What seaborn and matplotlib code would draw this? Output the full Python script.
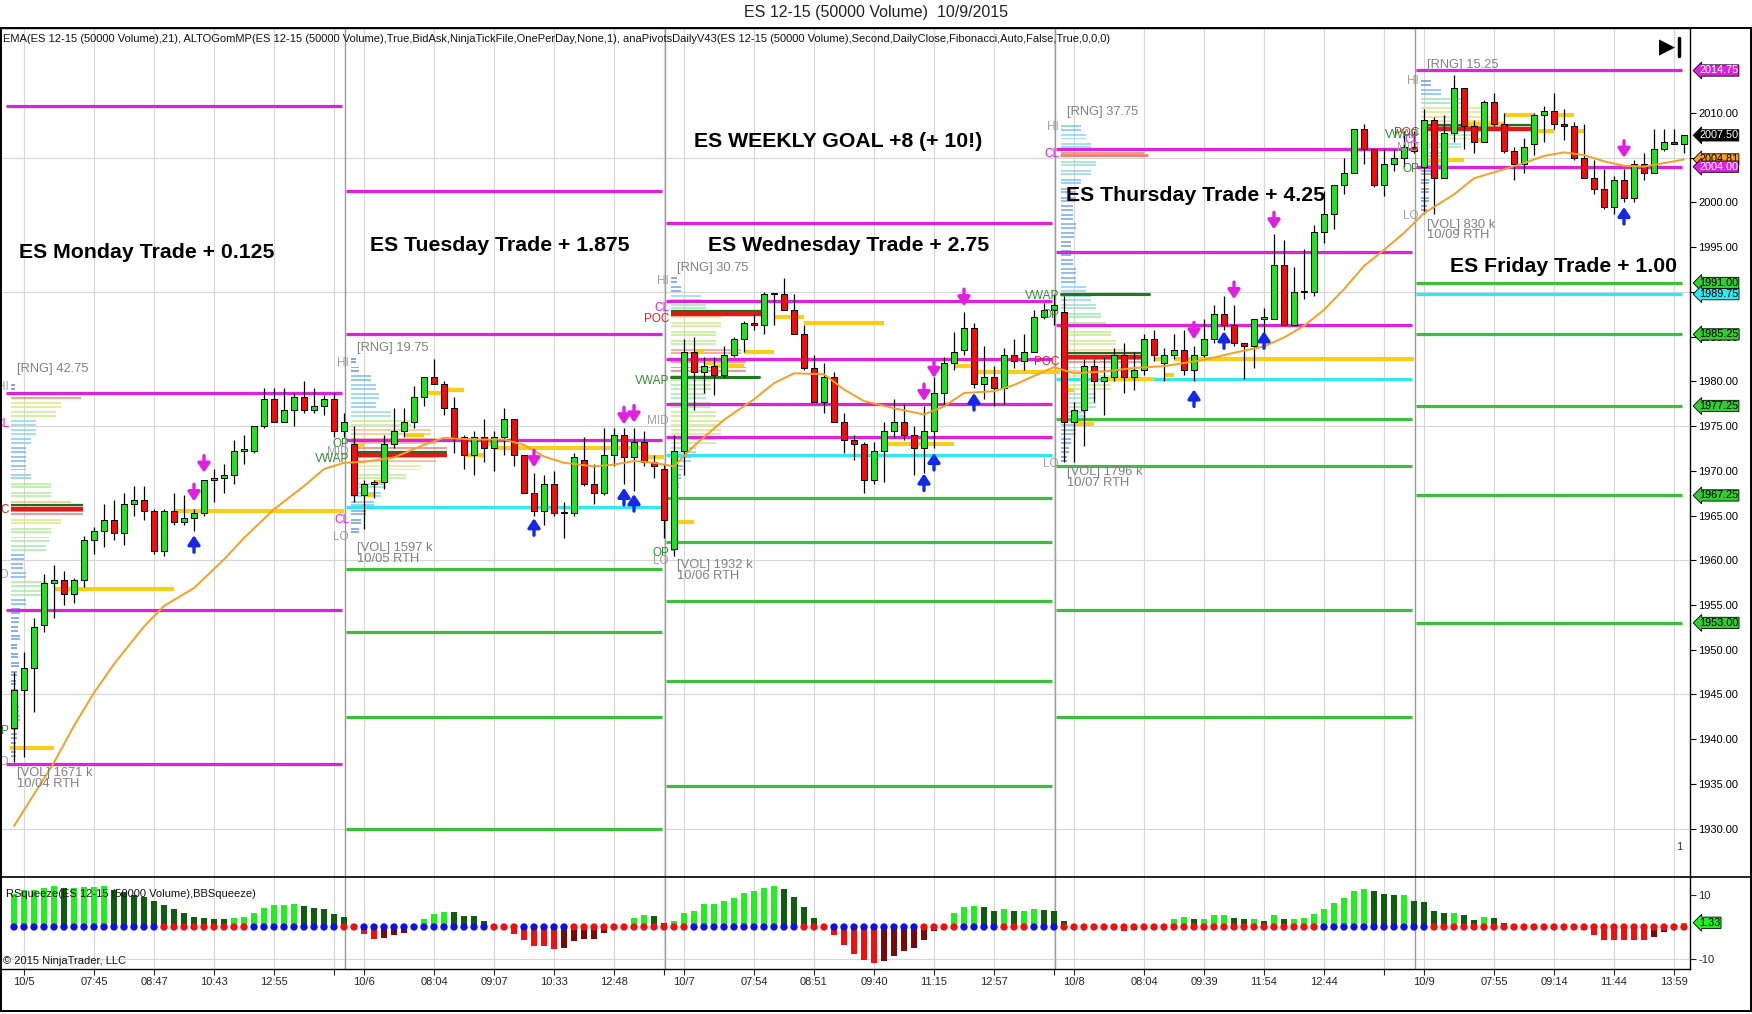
import numpy as np
import pandas as pd
import matplotlib.pyplot as plt
import matplotlib.transforms as mtransforms
from matplotlib.colors import LinearSegmentedColormap
from matplotlib.patches import Rectangle
from matplotlib.lines import Line2D
import seaborn as sns

# ==================================
# DATA
# ==================================

opens = [1941.25, 1945.5, 1948.0, 1952.75, 1957.5, 1957.75, 1956.25, 1957.75, 1962.25, 1963.25,
         1964.5, 1963.0, 1966.25, 1966.75, 1965.5, 1961.0, 1965.5, 1964.25, 1964.75, 1965.25,
         1969.0, 1969.25, 1969.5, 1972.25, 1972.25, 1975.0, 1978.0, 1975.5, 1976.75, 1978.25,
         1976.75, 1977.25, 1978.0, 1974.5,
         1973.0, 1967.25, 1968.5, 1968.75, 1973.0, 1974.5, 1975.5, 1978.25, 1980.5, 1979.75,
         1977.0, 1973.75, 1971.75, 1973.75, 1972.5, 1973.75, 1975.75, 1971.75, 1967.5, 1965.5,
         1968.5, 1965.25, 1965.25, 1971.25, 1968.5, 1967.5, 1971.75, 1974.0, 1971.5, 1973.25,
         1971.0, 1970.25,
         1961.25, 1972.25, 1983.25, 1981.0, 1981.75, 1980.75, 1983.0, 1984.75, 1986.5, 1986.25,
         1989.75, 1989.75, 1988.0, 1985.25, 1981.5, 1977.75, 1980.5, 1975.5, 1973.5, 1973.0,
         1969.0, 1972.25, 1974.5, 1975.5, 1974.0, 1972.5, 1974.5, 1978.75, 1982.0, 1983.5,
         1986.0, 1979.75, 1980.5, 1979.25, 1983.0, 1982.25, 1983.25, 1987.25, 1988.0,
         1987.75, 1975.5, 1976.75, 1981.75, 1980.0, 1980.5, 1983.0, 1980.5, 1981.25, 1984.75,
         1982.0, 1983.0, 1983.5, 1981.25, 1983.0, 1984.75, 1987.5, 1986.25, 1984.25, 1984.0,
         1987.0, 1987.0, 1993.0, 1986.25, 1990.0, 1990.0, 1996.75, 1998.75, 2002.0, 2003.25,
         2008.25, 2006.0, 2002.0, 2004.25, 2005.0, 2006.25,
         2004.0, 2009.25, 2002.75, 2007.75, 2012.75, 2008.5, 2006.75, 2011.25, 2008.75, 2005.75,
         2004.25, 2006.5, 2009.75, 2010.25, 2008.75, 2008.5, 2005.0, 2002.75, 2001.5, 1999.5,
         2002.5, 2000.5, 2004.25, 2003.25, 2006.0, 2006.75, 2006.5]
highs = [1947.5, 1949.75, 1953.5, 1958.5, 1959.5, 1958.75, 1958.0, 1962.75, 1963.75, 1966.25,
         1966.75, 1967.5, 1968.25, 1968.25, 1965.75, 1965.75, 1967.5, 1967.25, 1965.75, 1969.0,
         1970.25, 1970.75, 1973.5, 1974.0, 1975.0, 1979.25, 1979.25, 1979.25, 1978.75, 1980.0,
         1979.25, 1978.5, 1978.75, 1976.5,
         1975.0, 1969.0, 1969.0, 1974.0, 1977.0, 1977.0, 1979.5, 1980.5, 1982.5, 1980.0,
         1978.25, 1974.0, 1974.5, 1975.75, 1974.5, 1977.0, 1975.75, 1971.75, 1969.75, 1969.5,
         1970.0, 1966.5, 1972.0, 1973.75, 1970.75, 1974.75, 1974.75, 1974.75, 1974.75, 1974.5,
         1971.75, 1970.75,
         1974.0, 1984.75, 1985.0, 1982.75, 1982.75, 1984.0, 1985.0, 1986.75, 1987.5, 1990.0,
         1989.9, 1991.5, 1989.75, 1986.25, 1983.0, 1982.0, 1981.0, 1976.5, 1974.0, 1973.25,
         1973.25, 1975.5, 1978.0, 1977.5, 1975.0, 1977.25, 1980.5, 1982.75, 1985.5, 1987.75,
         1986.5, 1984.0, 1981.75, 1983.75, 1984.75, 1985.25, 1988.0, 1988.75, 1989.75,
         1989.5, 1977.75, 1982.5, 1982.5, 1982.75, 1983.75, 1984.25, 1983.25, 1985.25, 1985.75,
         1983.75, 1985.25, 1985.75, 1984.0, 1987.0, 1988.5, 1989.5, 1988.5, 1984.25, 1987.0,
         1988.25, 1996.5, 1995.75, 1992.75, 1994.75, 1997.5, 2001.25, 2002.0, 2005.0, 2008.25,
         2008.75, 2006.0, 2006.0, 2006.0, 2008.0, 2008.0,
         2010.5, 2009.5, 2009.75, 2014.25, 2012.75, 2009.25, 2011.5, 2012.25, 2010.0, 2006.25,
         2007.25, 2010.0, 2010.75, 2012.25, 2010.5, 2009.0, 2008.75, 2004.75, 2003.75, 2003.0,
         2003.75, 2004.75, 2005.5, 2008.25, 2008.25, 2008.25, 2007.5]
lows = [1937.5, 1938.0, 1943.0, 1952.0, 1953.5, 1955.0, 1955.25, 1957.0, 1960.75, 1961.5,
        1962.25, 1961.75, 1965.0, 1964.5, 1960.75, 1960.5, 1964.0, 1964.0, 1963.25, 1965.0,
        1966.5, 1967.5, 1968.5, 1970.75, 1972.0, 1974.75, 1975.5, 1975.5, 1975.0, 1976.5,
        1976.5, 1976.25, 1973.75, 1973.75,
        1966.5, 1963.5, 1967.0, 1968.0, 1972.5, 1973.75, 1974.75, 1977.25, 1979.75, 1976.25,
        1972.0, 1970.25, 1969.5, 1971.0, 1970.0, 1971.75, 1970.5, 1967.5, 1965.0, 1964.0,
        1965.0, 1962.5, 1965.0, 1968.25, 1966.25, 1967.25, 1970.5, 1968.5, 1967.75, 1970.5,
        1969.25, 1962.5,
        1960.5, 1969.5, 1976.75, 1978.75, 1978.5, 1980.5, 1982.75, 1983.25, 1985.75, 1985.25,
        1986.25, 1988.0, 1985.25, 1981.25, 1977.75, 1976.5, 1975.5, 1972.0, 1971.25, 1967.5,
        1968.5, 1968.75, 1973.75, 1973.5, 1969.5, 1969.75, 1972.5, 1977.25, 1981.25, 1983.0,
        1979.25, 1978.0, 1977.25, 1977.5, 1981.5, 1981.25, 1983.25, 1987.0, 1986.25,
        1971.0, 1971.0, 1972.75, 1977.75, 1976.25, 1980.0, 1978.75, 1979.0, 1980.75, 1982.25,
        1980.0, 1982.5, 1980.75, 1980.0, 1982.75, 1984.25, 1985.75, 1984.0, 1980.25, 1981.5,
        1984.0, 1987.0, 1986.25, 1986.25, 1989.25, 1989.5, 1995.5, 1997.0, 2001.0, 2003.25,
        2004.25, 2001.75, 2000.75, 2003.5, 2004.0, 2005.5,
        1998.75, 1998.75, 2002.75, 2006.75, 2006.0, 2005.5, 2006.75, 2008.5, 2005.5, 2002.5,
        2003.25, 2005.25, 2006.75, 2008.25, 2007.0, 2004.75, 2002.75, 2001.0, 1999.25, 1998.75,
        2000.0, 2000.0, 2002.5, 2003.25, 2005.75, 2006.5, 2005.5]
closes = [1945.5, 1948.0, 1952.5, 1957.5, 1957.75, 1956.25, 1957.75, 1962.25, 1963.25, 1964.5,
          1963.0, 1966.25, 1966.75, 1965.5, 1961.0, 1965.5, 1964.25, 1964.75, 1965.25, 1969.0,
          1969.25, 1969.5, 1972.25, 1972.25, 1975.0, 1978.0, 1975.5, 1976.75, 1978.25, 1976.75,
          1977.25, 1978.0, 1974.5, 1975.5,
          1967.25, 1968.5, 1968.75, 1973.0, 1974.5, 1975.5, 1978.25, 1980.5, 1979.75, 1977.0,
          1973.75, 1971.75, 1973.75, 1972.5, 1973.75, 1975.75, 1971.75, 1967.5, 1965.5, 1968.5,
          1965.25, 1965.25, 1971.5, 1968.5, 1967.5, 1971.75, 1974.0, 1971.5, 1973.25, 1971.0,
          1970.5, 1964.5,
          1972.25, 1983.25, 1981.0, 1981.75, 1980.75, 1983.0, 1984.75, 1986.5, 1986.25, 1989.75,
          1989.75, 1988.0, 1985.25, 1981.5, 1977.75, 1980.5, 1975.5, 1973.5, 1973.0, 1969.0,
          1972.25, 1974.5, 1975.5, 1974.0, 1972.5, 1974.5, 1978.75, 1982.0, 1983.25, 1986.0,
          1979.75, 1980.5, 1979.25, 1983.0, 1982.25, 1983.25, 1987.25, 1988.0, 1988.5,
          1975.5, 1976.75, 1981.75, 1980.0, 1980.5, 1983.0, 1980.5, 1981.25, 1984.75, 1983.0,
          1983.0, 1983.5, 1981.25, 1983.0, 1984.75, 1987.5, 1986.25, 1984.25, 1984.0, 1987.0,
          1987.25, 1993.0, 1986.25, 1990.0, 1990.0, 1996.75, 1998.75, 2002.0, 2003.25, 2008.25,
          2006.0, 2002.0, 2004.25, 2005.0, 2006.25, 2005.75,
          2009.25, 2002.75, 2007.75, 2012.75, 2008.5, 2006.75, 2011.25, 2008.75, 2005.75, 2004.25,
          2006.25, 2009.75, 2010.25, 2008.75, 2008.5, 2005.0, 2002.75, 2001.5, 1999.5, 2002.5,
          2000.5, 2004.25, 2003.25, 2006.0, 2006.75, 2006.5, 2007.5]

# EMA(21) line read at a subset of bars
ema_bars = [0, 4, 6, 8, 10, 13, 15, 18, 21, 23, 26, 29, 31, 33, 35, 38, 41, 43, 46, 49, 51, 53,
            55, 58, 60, 62, 64, 66, 68, 71, 74, 76, 78, 81, 83, 85, 88, 91, 93, 95, 98, 100, 102,
            104, 106, 109, 112, 115, 119, 122, 125, 127, 129, 131, 133, 135, 137, 139, 141, 144,
            146, 149, 151, 153, 155, 157, 159, 161, 163, 165, 167]
ema_vals = [1930.3, 1937.4, 1941.5, 1945.2, 1948.4, 1952.6, 1954.9, 1956.9, 1960.1, 1962.5,
            1965.7, 1968.3, 1970.2, 1970.9, 1971.0, 1971.5, 1972.9, 1973.7, 1973.5, 1973.5,
            1972.9, 1971.6, 1970.9, 1970.5, 1970.7, 1971.1, 1970.9, 1970.5, 1972.8, 1975.7,
            1978.0, 1979.8, 1980.9, 1980.8, 1979.1, 1977.8, 1977.0, 1976.3, 1977.2, 1978.7,
            1978.9, 1979.6, 1980.6, 1981.6, 1980.9, 1981.1, 1981.5, 1981.7, 1982.4, 1983.2,
            1983.9, 1984.9, 1986.2, 1988.0, 1990.3, 1992.9, 1994.7, 1996.6, 1998.8, 2000.9,
            2002.7, 2003.7, 2004.4, 2005.2, 2005.6, 2005.3, 2004.6, 2004.1, 2004.0, 2004.4,
            2004.8]

# BBSqueeze histogram
squeeze = [10.5, 11.7, 11.7, 12.4, 12.8, 12.4, 12.4, 12.6, 12.6, 12.8, 11.5, 11.0, 10.2, 9.4,
           8.1, 7.0, 5.8, 4.5, 3.1, 2.8, 2.6, 2.5, 2.9, 3.2, 4.5, 6.0, 6.8, 7.0, 7.3, 6.6, 6.0,
           5.8, 4.2, 3.1,
           -0.2, -2.1, -3.7, -3.6, -2.6, -1.8, 0.2, 2.4, 4.2, 4.7, 4.6, 3.5, 3.4, 1.8, -0.2, -0.3,
           -2.1, -4.2, -6.1, -6.1, -6.8, -6.5, -4.5, -3.9, -3.7, -1.9, -0.1, 0.1, 2.9, 3.7, 3.6, 1.4,
           2.0, 4.3, 5.1, 7.1, 7.3, 8.1, 9.2, 10.8, 11.2, 12.4, 12.8, 12.0, 9.5, 6.4, 2.9, -0.1,
           -2.6, -5.8, -8.4, -10.5, -11.2, -10.8, -9.2, -7.6, -6.5, -4.2, -1.4, 0.3, 4.3, 6.4, 6.5,
           6.4, 5.1, 5.5, 5.1, 5.1, 5.5, 5.4, 5.1,
           2.0, -0.1, -0.1, -0.2, -0.2, -0.1, -1.4, -1.0, 0.0, 0.0, 0.0, 2.4, 3.0, 2.6, 2.6, 3.7,
           3.7, 2.9, 2.4, 2.4, 2.0, 3.7, 2.4, 2.4, 2.7, 4.0, 5.5, 7.4, 9.2, 11.3, 12.0, 11.2, 10.5,
           9.9, 9.9, 8.3,
           7.9, 5.1, 4.5, 4.5, 3.7, 2.3, 3.1, 2.9, 1.4, 0.0, 0.0, 0.0, 0.0, 0.0, 0.0, 0.0, -1.0,
           -2.6, -4.0, -4.0, -4.0, -4.2, -4.2, -3.2, -1.6, -0.2, 1.33]
# squeeze dot runs, alternating starting with "on" (blue)
squeeze_runs = [15, 9, 9, 2, 13, 3, 5, 12, 11, 3, 9, 4, 4, 3, 3, 26, 11, 26]

# sessions
day_starts = [0, 34, 66, 105, 141]
day_ends = [33, 65, 104, 140, 167]

mag_levels = [[2010.75, 1978.75, 1954.5, 1937.25], [2001.25, 1985.25, 1973.5],
              [1997.75, 1989.0, 1982.5, 1977.5, 1973.75], [2006.0, 1994.5, 1986.25],
              [2014.75, 2004.0]]
cyan_levels = [[], [1966.0], [1971.75], [1980.25], [1989.75]]
green_levels = [[], [1959.0, 1952.0, 1942.5, 1930.0], [1967.0, 1962.0, 1955.5, 1946.5, 1934.75],
                [1975.75, 1970.5, 1954.5, 1942.5], [1991.0, 1985.25, 1977.25, 1967.25, 1953.0]]

# volume profiles: top price level, then width (in bars) per 1-point level going down
profile_tops = [1979, 1982, 1991, 2008, 2013]
profiles = [
    [0.4, 7.0, 5.0, 4.5, 2.5, 2.5, 2.0, 1.5, 1.5, 1.5, 2.0, 4.0, 4.0, 6.0, 7.2, 5.0, 4.0, 3.8,
     3.5, 1.3, 1.2, 1.5, 3.6, 3.6, 1.5, 0.9, 0.8, 0.7, 0.9, 0.6, 0.7, 0.8, 0.6, 0.5, 0.7, 0.6,
     0.8, 0.9, 0.7, 0.6, 0.5, 0.5],
    [0.5, 0.8, 2.0, 2.5, 2.8, 2.5, 4.0, 6.0, 8.0, 8.5, 9.6, 8.5, 7.0, 5.5, 3.5, 3.0, 2.3, 1.5,
     1.0, 0.8],
    [0.6, 1.0, 3.0, 3.5, 5.0, 5.0, 4.5, 4.5, 7.0, 7.5, 7.5, 4.0, 4.0, 3.5, 4.0, 4.5, 5.0, 5.0,
     4.5, 2.5, 2.0, 1.2, 1.0, 0.8, 0.6, 0.6, 0.5, 0.5, 0.4, 0.4, 0.4],
    [2.0, 2.5, 3.0, 8.3, 3.5, 3.0, 2.0, 1.5, 1.5, 1.2, 1.2, 1.5, 1.3, 1.0, 1.0, 1.2, 1.5, 1.5,
     2.5, 3.0, 3.5, 4.0, 4.5, 5.0, 5.5, 6.5, 8.3, 7.0, 6.0, 5.0, 3.5, 3.5, 2.5, 2.0, 1.5, 1.0,
     0.8, 0.6],
    [1.0, 2.0, 4.0, 6.0, 7.0, 9.0, 5.0, 4.0, 2.5, 2.0, 1.0, 0.8, 0.8, 0.8, 0.6],
]
poc_prices = [1965.75, 1971.75, 1987.5, 1982.75, 2008.25]
poc_lengths = [7.2, 9.6, 9.0, 8.5, 11.0]
vwap_prices = [1980.5, 1989.75]
vwap_days = [2, 3]

# developing value segments (yellow): price, from bar, to bar
seg_prices = [1939.0, 1956.75, 1965.5,
              1972.75, 1967.25, 1968.75, 1974.0, 1978.75, 1979.0, 1971.75, 1973.0, 1972.5, 1971.5,
              1964.25, 1983.25, 1982.0, 1981.75, 1983.25, 1987.25, 1986.5, 1973.0, 1981.75, 1981.0,
              1979.0, 1975.25, 1980.25, 1982.5, 1980.75, 1982.5,
              2004.75, 2008.75, 2007.0, 2008.75, 2009.75, 2008.0, 2009.75, 2008.0]
seg_from = [-0.4, 4, 16, 34, 35, 36, 39, 41, 43, 45, 47, 48, 63, 66, 68, 69, 70, 73, 76, 79, 87,
            94, 96, 105, 106, 109, 114, 115, 116, 141, 145, 146, 147, 149, 152, 154, 156]
seg_to = [4, 16, 33, 35, 36, 37, 41, 43, 45, 47, 48, 63, 65, 68, 69, 70, 73, 76, 79, 87, 94, 96,
          104.6, 106, 108, 114, 115, 116, 140, 145, 147, 147, 149, 152, 154, 156, 157]

# signal arrows
down_bars = [18, 19, 52, 61, 62, 91, 92, 95, 118, 122, 126, 161]
down_prices = [1967.5, 1970.7, 1971.3, 1976.1, 1976.3, 1978.7, 1981.3, 1989.3, 1985.6, 1990.1,
               1997.9, 2005.9]
up_bars = [18, 52, 61, 62, 91, 92, 96, 118, 121, 125, 161]
up_prices = [1961.9, 1963.8, 1967.2, 1966.5, 1968.8, 1971.1, 1977.8, 1978.2, 1984.7, 1984.7,
             1998.6]

tick_bars = [1, 8, 14, 20, 26, 32, 35, 42, 48, 54, 60, 65, 67, 74, 80, 86, 92, 98, 104,
             106, 113, 119, 125, 131, 137, 141, 148, 154, 160, 166]
tick_labels = ["10/5", "07:45", "08:47", "10:43", "12:55", "", "10/6", "08:04", "09:07", "10:33",
               "12:48", "", "10/7", "07:54", "08:51", "09:40", "11:15", "12:57", "", "10/8",
               "08:04", "09:39", "11:54", "12:44", "", "10/9", "07:55", "09:14", "11:44", "13:59"]

tag_prices = [2014.75, 2007.50, 2004.81, 2004.00, 1991.00, 1989.75, 1985.25, 1977.25, 1967.25,
              1953.00]

# ==================================
# STYLE
# ==================================

sns.set_theme(style="white")
plt.rcParams["font.family"] = ["Liberation Sans", "DejaVu Sans"]

MAG = "#E020E0"
GRN = "#3DBE3D"
CYN = "#30E8F0"
YEL = "#F7CF17"
UPC = "#25DD25"
DNC = "#E81010"

W, H = 1752, 1014
fig = plt.figure(figsize=(W / 100, H / 100), dpi=100)


def fbox(x0, y0, x1, y1):
    return [x0 / W, 1 - y1 / H, (x1 - x0) / W, (y1 - y0) / H]


ax = fig.add_axes(fbox(0, 28, 1690, 877))
axi = fig.add_axes(fbox(0, 877, 1690, 969), sharex=ax)

df = pd.DataFrame({"open": opens, "high": highs, "low": lows, "close": closes})
df["bar"] = np.arange(len(df))

# grid
for a in (ax, axi):
    a.set_xticks(tick_bars)
    a.grid(axis="x", color="#D6D6D6", lw=0.8)
    a.grid(axis="y", visible=False)
for g in range(1930, 2010, 15):
    ax.axhline(g, color="#D6D6D6", lw=0.8, zorder=0)
axi.axhline(-10, color="#D6D6D6", lw=0.8, zorder=0)

# session separators
for s in day_starts[1:]:
    ax.axvline(s - 0.9, color="#9A9A9A", lw=1.0, zorder=0.5)
    axi.axvline(s - 0.9, color="#9A9A9A", lw=1.0, zorder=0.5)

# volume profiles
prof_cmap = LinearSegmentedColormap.from_list(
    "prof", [(0.0, "#4A6FE0"), (0.3, "#78CFF5"), (0.55, "#A6EE8A"), (0.75, "#F0E46E"),
             (0.9, "#F5A078"), (1.0, "#EE6E6E")])
for d in range(5):
    w = np.array(profiles[d])
    lv = profile_tops[d] - np.arange(len(w))
    s = day_starts[d]
    for off in (0.15, 0.55):
        ax.barh(lv + off, w, left=s - 0.3, height=0.22,
                color=prof_cmap(w / w.max()), alpha=0.7, lw=0, zorder=1)
    ax.plot([s - 0.3, s - 0.3 + poc_lengths[d]], [poc_prices[d] + 0.4] * 2,
            color="#1E6E1E", lw=1.6, zorder=3, solid_capstyle="butt")
    ax.plot([s - 0.3, s - 0.3 + poc_lengths[d]], [poc_prices[d]] * 2,
            color="#E01818", lw=3.2, zorder=3, solid_capstyle="butt")
for p, d in zip(vwap_prices, vwap_days):
    s = day_starts[d]
    ax.plot([s - 0.3, s + 8.5], [p, p], color="#1E7A1E", lw=2.2, zorder=3)
ax.plot([104.7, 113.3], [2005.25, 2005.25], color="#F08070", lw=2.0, zorder=3)

# pivot lines
for d in range(5):
    x0, x1 = day_starts[d] - 0.8, day_ends[d] - 0.2
    for lv in mag_levels[d]:
        ax.plot([x0, x1], [lv, lv], color=MAG, lw=2.3, zorder=2, solid_capstyle="butt")
    for lv in cyan_levels[d]:
        ax.plot([x0, x1], [lv, lv], color=CYN, lw=2.3, zorder=2, solid_capstyle="butt")
    for lv in green_levels[d]:
        ax.plot([x0, x1], [lv, lv], color=GRN, lw=2.3, zorder=2, solid_capstyle="butt")

# yellow segments
for p, a0, a1 in zip(seg_prices, seg_from, seg_to):
    ax.plot([a0, a1], [p, p], color=YEL, lw=3.0, zorder=3, solid_capstyle="butt")

# candles
ax.vlines(df["bar"], df["low"], df["high"], color="black", lw=0.9, zorder=4)
body = (df["close"] - df["open"]).to_numpy()
body = np.where(np.abs(body) < 0.15, 0.15, body)
ccol = np.where(df["close"] >= df["open"], UPC, DNC)
ax.bar(df["bar"], body, bottom=df["open"], width=0.62, color=ccol,
       edgecolor="black", linewidth=0.7, zorder=4.5)

# EMA
sns.lineplot(x=ema_bars, y=ema_vals, ax=ax, color="#F5A020", lw=1.4, zorder=5)

# arrows
for b, p in zip(down_bars, down_prices):
    ax.annotate("", xy=(b, p - 0.9), xytext=(b, p + 1.0), zorder=8,
                arrowprops=dict(arrowstyle="-|>,head_width=0.3,head_length=0.45",
                                color=MAG, lw=2.4, shrinkA=0, shrinkB=0))
for b, p in zip(up_bars, up_prices):
    ax.annotate("", xy=(b, p + 0.9), xytext=(b, p - 1.0), zorder=8,
                arrowprops=dict(arrowstyle="-|>,head_width=0.3,head_length=0.45",
                                color="#1428E6", lw=2.4, shrinkA=0, shrinkB=0))

# profile tags
tag_col = {"HI": "#A0A0A0", "MID": "#A0A0A0", "LO": "#A0A0A0", "CL": MAG,
           "POC": "#E02020", "VWAP": "#2E8B2E", "OP": "#2E8B2E"}
profile_tags = [
    [("HI", 1979.4), ("CL", 1975.2), ("POC", 1965.6), ("MID", 1958.4), ("OP", 1940.9), ("LO", 1937.4)],
    [("HI", 1982.1), ("OP", 1973.0), ("MID", 1972.1), ("VWAP", 1971.3), ("CL", 1964.5), ("LO", 1962.6)],
    [("HI", 1991.2), ("CL", 1988.2), ("POC", 1987.0), ("VWAP", 1980.0), ("MID", 1975.6),
     ("OP", 1960.8), ("LO", 1959.9)],
    [("HI", 2008.4), ("CL", 2005.4), ("VWAP", 1989.5), ("OP", 1987.4), ("POC", 1982.2), ("LO", 1970.8)],
    [("HI", 2013.6), ("POC", 2007.8), ("VWAP", 2007.5), ("CL", 2007.0), ("MID", 2006.1),
     ("OP", 2003.7), ("LO", 1998.5)],
]
for d in range(5):
    for t, p in profile_tags[d]:
        ax.text(day_starts[d] - 0.5, p, t, ha="right", va="center", fontsize=8.5,
                color=tag_col[t], clip_on=True, zorder=6)

# session info text
rng_txt = ["[RNG] 42.75", "[RNG] 19.75", "[RNG] 30.75", "[RNG] 37.75", "[RNG] 15.25"]
rng_y = [1981.4, 1983.7, 1992.7, 2010.1, 2015.4]
vol_txt = ["[VOL] 1671 k\n10/04 RTH", "[VOL] 1597 k\n10/05 RTH", "[VOL] 1932 k\n10/06 RTH",
           "[VOL] 1796 k\n10/07 RTH", "[VOL] 830 k\n10/09 RTH"]
vol_y = [1936.9, 1962.0, 1960.1, 1970.5, 1998.2]
for d in range(5):
    ax.text(day_starts[d] + 0.3, rng_y[d], rng_txt[d], fontsize=9.3, color="#808080",
            va="center", ha="left", zorder=6)
    ax.text(day_starts[d] + 0.3, vol_y[d], vol_txt[d], fontsize=9.3, color="#808080",
            va="top", ha="left", linespacing=0.85, zorder=6)

# trade notes
notes = [("ES Monday Trade + 0.125", 0.5, 1994.4), ("ES Tuesday Trade + 1.875", 35.6, 1995.2),
         ("ES WEEKLY GOAL +8 (+ 10!)", 68.0, 2006.8), ("ES Wednesday Trade + 2.75", 69.4, 1995.2),
         ("ES Thursday Trade + 4.25", 105.2, 2000.8), ("ES Friday Trade + 1.00", 143.6, 1992.8)]
for t, x, y in notes:
    ax.text(x, y, t, fontsize=15.3, fontweight="bold", color="black", ha="left", va="center",
            zorder=9)
ax.text(166.5, 1928.0, "1", fontsize=8, ha="center", va="center", color="#333333")

# squeeze histogram
sq = np.array(squeeze)
prev = np.concatenate([[sq[0]], sq[:-1]])
scol = np.where(sq >= 0, np.where(sq >= prev, "#22EE22", "#0E5E0E"),
                np.where(sq <= prev, "#F01010", "#7A0A0A"))
axi.bar(np.arange(len(sq)), sq, width=0.62, color=scol, lw=0, zorder=2)
dot_state = []
for i, n in enumerate(squeeze_runs):
    dot_state += ["on" if i % 2 == 0 else "off"] * n
sns.scatterplot(x=np.arange(len(dot_state)), y=np.zeros(len(dot_state)), hue=dot_state,
                palette={"on": "#1010E0", "off": "#EE1010"}, s=28, linewidth=0, legend=False,
                ax=axi, zorder=3)

# axes limits / ticks
ax.set_xlim(-1.4, 167.6)
ax.set_ylim(1924.6, 2019.5)
axi.set_ylim(-13.2, 15.7)
for a in (ax, axi):
    a.set_xlabel("")
    a.set_ylabel("")
    a.yaxis.tick_right()
    a.spines["left"].set_visible(False)
    for sp in ("top", "right", "bottom"):
        a.spines[sp].set_color("black")
        a.spines[sp].set_linewidth(1.0)
axi.spines["top"].set_visible(False)
ax.set_yticks(np.arange(1930, 2011, 5))
ax.set_yticklabels([f"{v:.2f}" for v in np.arange(1930, 2011, 5)])
ax.tick_params(axis="y", direction="out", length=4, width=0.8, labelsize=8, pad=2, colors="black")
ax.tick_params(axis="x", length=0, labelbottom=False)
axi.set_yticks([10, -10])
axi.set_yticklabels(["10", "-10"])
axi.tick_params(axis="y", direction="out", length=4, width=0.8, labelsize=8, pad=2)
axi.set_xticklabels(tick_labels)
axi.tick_params(axis="x", direction="out", length=4, width=0.8, labelsize=8, pad=2,
                bottom=True)

# price tags on right axis
trans = mtransforms.blended_transform_factory(ax.transAxes, ax.transData)
tag_trans = mtransforms.offset_copy(trans, fig=fig, x=9, y=0, units="dots")
tag_fc = [MAG, "black", "#F5A020", MAG, "#33CC33", CYN, "#33CC33", "#33CC33", "#33CC33", "#33CC33"]
tag_tc = ["white", "white", "black", "white", "black", "black", "black", "black", "black", "black"]
for p, fc, tc in zip(tag_prices, tag_fc, tag_tc):
    ax.text(1.0, p, f"{p:.2f}", transform=tag_trans, ha="left", va="center", fontsize=7.8,
            color=tc, clip_on=False, zorder=10,
            bbox=dict(boxstyle="larrow,pad=0.06", fc=fc, ec="black", lw=0.6))
itrans = mtransforms.offset_copy(
    mtransforms.blended_transform_factory(axi.transAxes, axi.transData),
    fig=fig, x=9, y=0, units="dots")
axi.text(1.0, squeeze[-1], "1.33", transform=itrans, ha="left", va="center", fontsize=7.8,
         color="black", clip_on=False, zorder=10,
         bbox=dict(boxstyle="larrow,pad=0.06", fc="#22EE22", ec="black", lw=0.6))

# header texts
fig.text(0.5, 1 - 13 / H, "ES 12-15 (50000 Volume)  10/9/2015", ha="center", va="center",
         fontsize=11.5, color="#222222")
fig.text(3 / W, 1 - 39 / H,
         "EMA(ES 12-15 (50000 Volume),21), ALTOGomMP(ES 12-15 (50000 Volume),True,BidAsk,"
         "NinjaTickFile,OnePerDay,None,1), anaPivotsDailyV43(ES 12-15 (50000 Volume),Second,"
         "DailyClose,Fibonacci,Auto,False,True,0,0,0)",
         ha="left", va="center", fontsize=8.0, color="#111111")
fig.text(6 / W, 1 - 894 / H, "RSqueeze(ES 12-15 (50000 Volume),BBSqueeze)", ha="left",
         va="center", fontsize=8.0, color="#111111")
fig.text(3 / W, 1 - 961 / H, "\u00a9 2015 NinjaTrader, LLC", ha="left", va="center",
         fontsize=8.0, color="#111111")
fig.text(1667 / W, 1 - 47 / H, "\u25b6", ha="center", va="center", fontsize=15,
         family="DejaVu Sans", color="black")
fig.add_artist(Line2D([1679 / W] * 2, [1 - 38 / H, 1 - 56 / H], color="black", lw=2.5))

# frame
fig.add_artist(Rectangle((0.5 / W, 3 / H), (W - 1.5) / W, (H - 31) / H,
                         transform=fig.transFigure, fill=False, ec="black", lw=1.4))
fig.add_artist(Line2D([0, 1], [1 - 877 / H] * 2, color="black", lw=1.2))

fig.savefig("out.png", dpi=100)
